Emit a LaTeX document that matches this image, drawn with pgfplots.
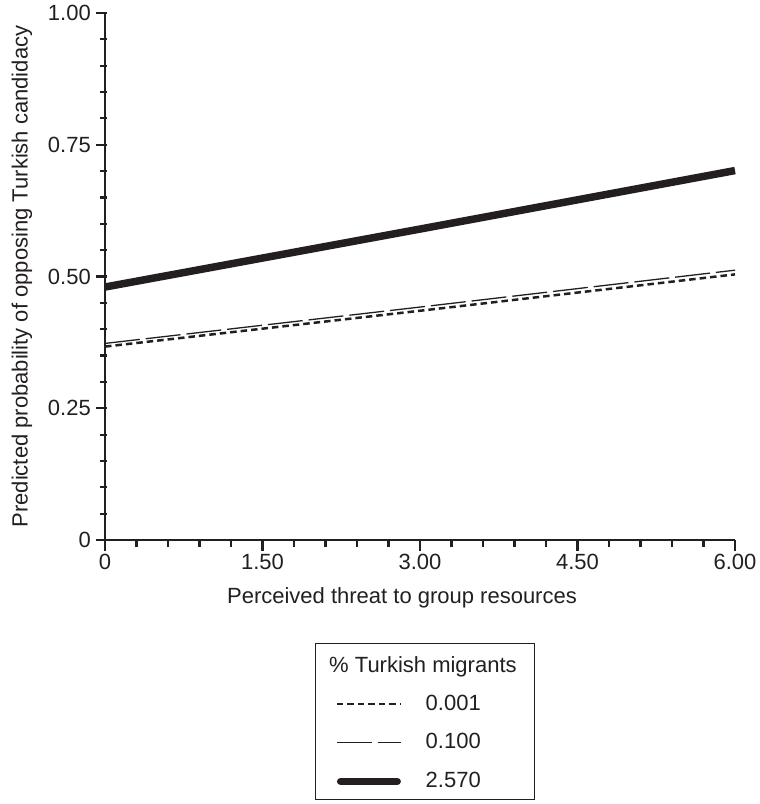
\documentclass[border=0pt]{standalone}
\usepackage{fontspec}
\setmainfont{Liberation Sans}
\usepackage{pgfplots}
\pgfplotsset{compat=1.18}
\definecolor{ink}{RGB}{35,31,32}
\begin{document}
\fontsize{22}{26}\selectfont
\begin{tikzpicture}
\begin{axis}[
  at={(105pt,264pt)}, anchor=south west,
  scale only axis, width=630pt, height=527pt,
  xmin=0, xmax=6, ymin=0, ymax=1,
  axis x line*=bottom, axis y line*=left,
  axis line style={-, line width=2.4pt, color=ink},
  xtick={0,1.5,3,4.5,6}, xticklabels={0,1.50,3.00,4.50,6.00},
  ytick={0,0.25,0.5,0.75,1}, yticklabels={0,0.25,0.50,0.75,1.00},
  minor x tick num=4, minor y tick num=4,
  tick align=outside, major tick length=11pt, minor tick length=7pt,
  tick style={line width=2.2pt, color=ink},
  ytick style={xshift=2.5pt},
  /pgf/number format/assume math mode=true,
  every tick label/.append style={inner sep=3pt, text=ink},
  xlabel={Perceived threat to group resources},
  ylabel={Predicted probability of opposing Turkish candidacy},
  xlabel style={at={(axis description cs:0.4714,-0.110)}, anchor=center, text=ink},
  ylabel style={at={(axis description cs:-0.132,0.5)}, anchor=center, rotate=0, text=ink},
  clip=false,
  legend image code/.code={\draw[#1] (0pt,0pt) -- (64pt,0pt);},
  legend style={draw=none, fill=none, inner sep=0pt, row sep=20pt, column sep=21pt,
    nodes={inner sep=0pt, anchor=west, text=ink},
    at={(axis description cs:0.3619,-0.2932)}, anchor=north west},
  legend cell align=left,
]
\addplot[ink, line width=2.5pt, dash pattern=on 6.5pt off 4pt] coordinates {(0,0.367) (3,0.435) (6,0.504)};
\addlegendentry{0.001}
\addplot[ink, line width=1.3pt, dash pattern=on 35pt off 6pt] coordinates {(0,0.373) (3,0.442) (6,0.512)};
\addlegendentry{0.100}
\addplot[ink, line width=7.5pt, legend image post style={line cap=round, shorten <=3.75pt, shorten >=3.75pt}] coordinates {(0,0.480) (3,0.590) (6,0.701)};
\addlegendentry{2.570}
\end{axis}
\draw[ink, line width=1pt] (315pt,4pt) rectangle (534pt,160pt);
\node[anchor=west, inner sep=0pt, text=ink] at (329pt,137pt) {\% Turkish migrants};
\pgfresetboundingbox
\useasboundingbox (0,0) rectangle (760pt,804pt);
\end{tikzpicture}
\end{document}
